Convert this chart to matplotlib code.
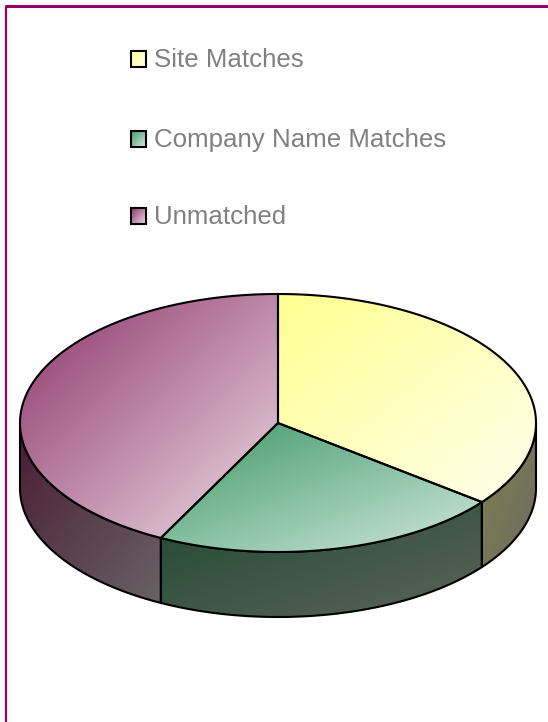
import numpy as np
import matplotlib
matplotlib.use("Agg")
import matplotlib.pyplot as plt
from matplotlib.colors import LinearSegmentedColormap
from matplotlib.patches import Polygon

# data
categorias = ["Site Matches", "Company Name Matches", "Unmatched"]
valores = [35.5, 22.0, 42.5]

# cores do gradiente (topo, lateral)
topo_inicio = ["#FFFF90", "#3F9868", "#8C3468"]
topo_fim = ["#FFFFEE", "#D0E8DC", "#EEDDE6"]
lado_inicio = ["#807F50", "#1F4A30", "#4A1C34"]
lado_fim = ["#6C6C60", "#5E635C", "#686264"]

# geometria em pixels da imagem
cx, cy, rx, ry = 278, 423, 258, 129
altura = 65

fig = plt.figure(figsize=(5.48, 7.22), dpi=100)
ax = fig.add_axes([0, 0, 1, 1])
ax.set_xlim(0, 548)
ax.set_ylim(722, 0)
ax.axis("off")

# moldura
ax.plot([6, 6], [722, 5.5], color="#990066", lw=1.6, solid_capstyle="butt", zorder=1)
ax.plot([5, 548], [5.5, 5.5], color="#990066", lw=2.2, solid_capstyle="butt", zorder=1)


def arco(a0, a1, n=200):
    ang = np.radians(np.linspace(a0, a1, n))
    return cx + rx * np.sin(ang), cy - ry * np.cos(ang)


def gradiente(bbox, inicio, fim, poligono, z):
    # gradiente diagonal recortado pelo poligono
    x0, x1, y0, y1 = bbox
    mapa = LinearSegmentedColormap.from_list("g", [inicio, fim])
    xx, yy = np.meshgrid(np.linspace(0, 1, 200), np.linspace(0, 1, 200))
    im = ax.imshow((xx + yy) / 2, extent=(x0, x1, y1, y0), cmap=mapa,
                   vmin=0, vmax=1, aspect="auto", zorder=z, interpolation="bilinear")
    im.set_clip_path(poligono)


angulos = np.cumsum([0] + valores) * 3.6

# laterais
for i in range(len(valores)):
    a0 = max(angulos[i], 90)
    a1 = min(angulos[i + 1], 270)
    if a1 <= a0:
        continue
    ax_x, ax_y = arco(a0, a1)
    pts = np.vstack([np.column_stack([ax_x, ax_y]),
                     np.column_stack([ax_x[::-1], ax_y[::-1] + altura])])
    lado = Polygon(pts, closed=True, fc="none", ec="black", lw=1.5, zorder=4, joinstyle="round")
    ax.add_patch(lado)
    gradiente((pts[:, 0].min(), pts[:, 0].max(), pts[:, 1].min(), pts[:, 1].max()),
              lado_inicio[i], lado_fim[i], lado, 3)

# topo
for i in range(len(valores)):
    ax_x, ax_y = arco(angulos[i], angulos[i + 1])
    pts = np.vstack([[cx, cy], np.column_stack([ax_x, ax_y])])
    fatia = Polygon(pts, closed=True, fc="none", ec="black", lw=1.5, zorder=6, joinstyle="round")
    ax.add_patch(fatia)
    gradiente((pts[:, 0].min(), pts[:, 0].max(), pts[:, 1].min(), pts[:, 1].max()),
              topo_inicio[i], topo_fim[i], fatia, 5)

# legenda
legenda_y = [58.5, 138.5, 216]
for nome, y, ini, fim in zip(categorias, legenda_y, topo_inicio, topo_fim):
    quadro = Polygon([(131, y - 8), (145.5, y - 8), (145.5, y + 8), (131, y + 8)], closed=True,
                     fc="none", ec="black", lw=1.5, zorder=6)
    ax.add_patch(quadro)
    gradiente((131, 145.5, y - 8, y + 8), ini, fim, quadro, 5)
    ax.text(153.5, y + 8.5, nome, color="#808080", fontsize=18.6, family="Liberation Sans",
            va="baseline", ha="left", zorder=7)

ax.set_xlim(0, 548)
ax.set_ylim(722, 0)
fig.savefig("out.png", dpi=100, facecolor="white")
